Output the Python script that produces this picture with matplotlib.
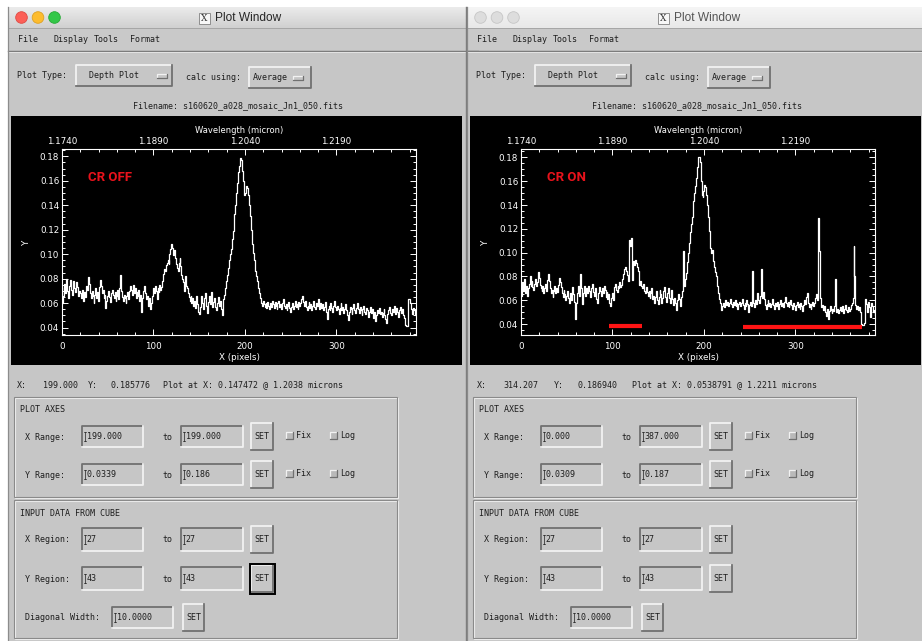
import numpy as np
import matplotlib
matplotlib.use("Agg")
import matplotlib.pyplot as plt
from matplotlib.patches import Rectangle, Circle
from matplotlib.colors import LinearSegmentedColormap
from matplotlib.ticker import MultipleLocator, FormatStrFormatter

W, H = 922, 641

# depth plot, averaged over the extraction box, one value per cube pixel
flux_cr_off = [
    0.072, 0.060, 0.066, 0.076, 0.068, 0.080, 0.070, 0.064, 0.074, 0.079,
    0.071, 0.067, 0.075, 0.078, 0.072, 0.069, 0.077, 0.073, 0.066, 0.070,
    0.068, 0.064, 0.071, 0.067, 0.062, 0.069, 0.065, 0.074, 0.071, 0.081,
    0.076, 0.068, 0.064, 0.070, 0.066, 0.060, 0.067, 0.072, 0.064, 0.069,
    0.062, 0.073, 0.079, 0.074, 0.068, 0.071, 0.064, 0.067, 0.056, 0.062,
    0.066, 0.070, 0.065, 0.061, 0.068, 0.071, 0.067, 0.064, 0.069, 0.062,
    0.066, 0.071, 0.063, 0.072, 0.083, 0.070, 0.065, 0.062, 0.067, 0.064,
    0.060, 0.066, 0.069, 0.063, 0.070, 0.074, 0.071, 0.067, 0.075, 0.068,
    0.072, 0.064, 0.069, 0.066, 0.071, 0.062, 0.067, 0.053, 0.064, 0.070,
    0.074, 0.068, 0.063, 0.066, 0.061, 0.058, 0.064, 0.055, 0.060, 0.066,
    0.072, 0.068, 0.074, 0.070, 0.063, 0.072, 0.069, 0.075, 0.071, 0.073,
    0.078, 0.084, 0.088, 0.086, 0.091, 0.093, 0.095, 0.092, 0.100, 0.104,
    0.108, 0.105, 0.099, 0.103, 0.097, 0.092, 0.089, 0.086, 0.093, 0.097,
    0.090, 0.083, 0.080, 0.077, 0.070, 0.082, 0.074, 0.072, 0.068, 0.065,
    0.062, 0.066, 0.060, 0.064, 0.058, 0.062, 0.056, 0.066, 0.059, 0.053,
    0.051, 0.057, 0.062, 0.066, 0.060, 0.055, 0.064, 0.068, 0.058, 0.052,
    0.061, 0.066, 0.059, 0.069, 0.063, 0.057, 0.061, 0.064, 0.057, 0.054,
    0.060, 0.065, 0.058, 0.062, 0.055, 0.050, 0.056, 0.063, 0.067, 0.072,
    0.078, 0.083, 0.089, 0.095, 0.100, 0.104, 0.112, 0.119, 0.126, 0.133,
    0.140, 0.150, 0.158, 0.167, 0.172, 0.179, 0.177, 0.168, 0.160, 0.152,
    0.148, 0.150, 0.156, 0.154, 0.148, 0.140, 0.131, 0.120, 0.108, 0.101,
    0.095, 0.092, 0.086, 0.082, 0.078, 0.072, 0.068, 0.064, 0.060, 0.058,
    0.062, 0.059, 0.057, 0.060, 0.056, 0.061, 0.058, 0.055, 0.060, 0.057,
    0.062, 0.059, 0.056, 0.061, 0.058, 0.055, 0.060, 0.062, 0.057, 0.059,
    0.055, 0.060, 0.063, 0.058, 0.056, 0.059, 0.054, 0.058, 0.061, 0.056,
    0.053, 0.057, 0.060, 0.055, 0.058, 0.062, 0.057, 0.059, 0.055, 0.061,
    0.058, 0.060, 0.063, 0.066, 0.061, 0.058, 0.062, 0.057, 0.054, 0.058,
    0.061, 0.056, 0.059, 0.054, 0.058, 0.062, 0.057, 0.055, 0.060, 0.058,
    0.063, 0.058, 0.055, 0.060, 0.056, 0.059, 0.054, 0.057, 0.061, 0.053,
    0.047, 0.055, 0.058, 0.054, 0.060, 0.056, 0.053, 0.058, 0.062, 0.057,
    0.054, 0.058, 0.055, 0.051, 0.056, 0.060, 0.054, 0.057, 0.052, 0.055,
    0.059, 0.054, 0.050, 0.046, 0.053, 0.057, 0.055, 0.051, 0.056, 0.059,
    0.054, 0.052, 0.056, 0.060, 0.055, 0.052, 0.057, 0.054, 0.050, 0.055,
    0.058, 0.053, 0.051, 0.056, 0.054, 0.049, 0.053, 0.057, 0.052, 0.055,
    0.051, 0.048, 0.053, 0.045, 0.050, 0.054, 0.052, 0.056, 0.051, 0.053,
    0.049, 0.052, 0.055, 0.050, 0.047, 0.044, 0.051, 0.054, 0.057, 0.052,
    0.050, 0.055, 0.053, 0.058, 0.054, 0.051, 0.056, 0.053, 0.049, 0.054,
    0.057, 0.052, 0.055, 0.050, 0.048, 0.043, 0.042, 0.041, 0.041, 0.063,
    0.063, 0.060, 0.055, 0.051, 0.056, 0.054, 0.050, 0.052,
]

flux_cr_on = [
    0.070, 0.064, 0.075, 0.068, 0.078, 0.066, 0.072, 0.064, 0.070, 0.074,
    0.080, 0.072, 0.076, 0.071, 0.069, 0.074, 0.078, 0.072, 0.075, 0.084,
    0.079, 0.073, 0.070, 0.068, 0.072, 0.066, 0.070, 0.074, 0.068, 0.077,
    0.082, 0.076, 0.070, 0.066, 0.069, 0.063, 0.068, 0.072, 0.066, 0.070,
    0.067, 0.073, 0.079, 0.075, 0.071, 0.066, 0.063, 0.069, 0.065, 0.060,
    0.064, 0.068, 0.062, 0.058, 0.066, 0.060, 0.071, 0.065, 0.059, 0.052,
    0.044, 0.058, 0.066, 0.072, 0.064, 0.082, 0.070, 0.057, 0.066, 0.072,
    0.069, 0.064, 0.070, 0.066, 0.072, 0.068, 0.063, 0.070, 0.074, 0.067,
    0.064, 0.070, 0.066, 0.061, 0.058, 0.066, 0.071, 0.068, 0.064, 0.070,
    0.066, 0.072, 0.069, 0.063, 0.067, 0.061, 0.065, 0.058, 0.055, 0.062,
    0.066, 0.060, 0.071, 0.074, 0.069, 0.067, 0.072, 0.070, 0.075, 0.071,
    0.073, 0.078, 0.082, 0.086, 0.088, 0.085, 0.081, 0.076, 0.076, 0.111,
    0.106, 0.112, 0.077, 0.093, 0.090, 0.094, 0.091, 0.088, 0.085, 0.080,
    0.073, 0.076, 0.072, 0.070, 0.074, 0.068, 0.066, 0.071, 0.067, 0.064,
    0.068, 0.062, 0.066, 0.070, 0.061, 0.064, 0.058, 0.063, 0.068, 0.060,
    0.057, 0.063, 0.069, 0.065, 0.058, 0.062, 0.068, 0.071, 0.063, 0.059,
    0.066, 0.070, 0.062, 0.058, 0.064, 0.069, 0.061, 0.056, 0.062, 0.058,
    0.052, 0.060, 0.065, 0.061, 0.055, 0.063, 0.066, 0.068, 0.101, 0.072,
    0.078, 0.083, 0.092, 0.100, 0.108, 0.117, 0.124, 0.130, 0.136, 0.143,
    0.150, 0.156, 0.163, 0.172, 0.180, 0.180, 0.176, 0.160, 0.148, 0.147,
    0.152, 0.157, 0.155, 0.148, 0.140, 0.130, 0.118, 0.104, 0.100, 0.102,
    0.093, 0.090, 0.088, 0.084, 0.080, 0.072, 0.066, 0.061, 0.058, 0.052,
    0.055, 0.058, 0.054, 0.057, 0.060, 0.056, 0.059, 0.055, 0.058, 0.061,
    0.057, 0.054, 0.059, 0.056, 0.060, 0.055, 0.058, 0.053, 0.057, 0.059,
    0.055, 0.058, 0.061, 0.056, 0.053, 0.058, 0.055, 0.060, 0.057, 0.050,
    0.056, 0.059, 0.055, 0.085, 0.058, 0.054, 0.060, 0.057, 0.062, 0.066,
    0.060, 0.058, 0.064, 0.086, 0.062, 0.067, 0.061, 0.056, 0.053, 0.057,
    0.060, 0.055, 0.058, 0.054, 0.057, 0.061, 0.056, 0.053, 0.058, 0.055,
    0.059, 0.056, 0.053, 0.057, 0.060, 0.055, 0.058, 0.054, 0.059, 0.063,
    0.058, 0.055, 0.059, 0.054, 0.057, 0.060, 0.056, 0.053, 0.058, 0.055,
    0.052, 0.056, 0.059, 0.054, 0.057, 0.053, 0.058, 0.055, 0.051, 0.056,
    0.060, 0.057, 0.063, 0.066, 0.058, 0.054, 0.057, 0.053, 0.056, 0.059,
    0.055, 0.058, 0.062, 0.065, 0.060, 0.129, 0.101, 0.062, 0.058, 0.054,
    0.056, 0.052, 0.055, 0.050, 0.047, 0.053, 0.044, 0.051, 0.055, 0.052,
    0.049, 0.053, 0.051, 0.055, 0.078, 0.050, 0.053, 0.049, 0.052, 0.054,
    0.051, 0.055, 0.052, 0.049, 0.053, 0.056, 0.052, 0.050, 0.054, 0.051,
    0.053, 0.056, 0.058, 0.062, 0.106, 0.080, 0.056, 0.053, 0.055, 0.052,
    0.054, 0.050, 0.040, 0.039, 0.039, 0.040, 0.041, 0.061, 0.057, 0.050,
    0.059, 0.054, 0.046, 0.058, 0.055, 0.050, 0.052, 0.048,
]

# wavelength solution for the top axis
wave0, dwave = 1.1740, 0.00015
wave_labels = ["1.1740", "1.1890", "1.2040", "1.2190"]

# pixel ranges flagged under the CR ON spectrum: (start, end, level)
flagged = [(96, 132, 0.0382), (243, 373, 0.0373)]

filename = "s160620_a028_mosaic_Jn1_050.fits"
status_off = ["199.000", "0.185776", "0.147472 @ 1.2038"]
status_on = ["314.207", "0.186940", "0.0538791 @ 1.2211"]
xrange_off = ["199.000", "199.000"]
yrange_off = ["0.0339", "0.186"]
xrange_on = ["0.000", "387.000"]
yrange_on = ["0.0309", "0.187"]
x_region = ["27", "27"]
y_region = ["43", "43"]
diag_width = "10.0000"

PANEL = "#c6c6c6"
LIGHT = "#f2f2f2"
SHADE = "#707070"
INK = "#1e1e1e"
GUI_FONT = dict(family="DejaVu Sans Mono", fontsize=6.0, color=INK)

fig = plt.figure(figsize=(W / 100, H / 100), dpi=100, facecolor="white")
bg = fig.add_axes([0, 0, 1, 1])
bg.axis("off")


def label(x, y, s, ha="left", **kw):
    opts = dict(GUI_FONT)
    opts.update(kw)
    bg.text(x, y, s, ha=ha, va="center", zorder=5, **opts)


def bevel(x0, y0, x1, y1, raised=True, fill=PANEL, lw=1.3):
    bg.add_patch(Rectangle((x0, y0), x1 - x0, y1 - y0, fc=fill, ec="none", zorder=3))
    hi, lo = (LIGHT, SHADE) if raised else (SHADE, LIGHT)
    bg.plot([x0, x0, x1], [y1, y0, y0], color=hi, lw=lw, zorder=4)
    bg.plot([x0, x1, x1], [y1, y1, y0], color=lo, lw=lw, zorder=4)


def field(x0, y0, x1, y1, s):
    bevel(x0, y0, x1, y1, raised=False)
    cx, ym = x0 + 3, (y0 + y1) / 2
    bg.plot([cx, cx], [ym - 4.5, ym + 4.5], color=INK, lw=0.5, zorder=5)
    bg.plot([cx - 1.2, cx + 1.2], [ym - 4.5, ym - 4.5], color=INK, lw=0.5, zorder=5)
    bg.plot([cx - 1.2, cx + 1.2], [ym + 4.5, ym + 4.5], color=INK, lw=0.5, zorder=5)
    label(x0 + 4.5, ym, s)


def set_button(x0, y0, x1, y1, focused=False):
    bevel(x0, y0, x1, y1)
    if focused:
        bg.add_patch(Rectangle((x0 - 1.5, y0 - 1.5), x1 - x0 + 3, y1 - y0 + 3,
                               fill=False, ec="black", lw=1.4, zorder=5))
    label((x0 + x1) / 2, (y0 + y1) / 2, "SET", ha="center")


def toggle(x, y, s):
    bevel(x, y, x + 7, y + 7, fill="#b9b9b9", lw=0.9)
    label(x + 10.5, y + 3, s)


def group(x0, y0, x1, y1):
    bg.add_patch(Rectangle((x0, y0), x1 - x0, y1 - y0, fill=False, ec="#8a8a8a", lw=0.8, zorder=3))
    bg.add_patch(Rectangle((x0 + 1, y0 + 1), x1 - x0, y1 - y0, fill=False, ec="#efefef", lw=0.8, zorder=2.9))


def draw_window(ox, active, status, status_x, xr, yr, focused):
    left = ox + 8
    bg.add_patch(Rectangle((left, 7), 470, H, fc=PANEL, ec="none", zorder=1))
    bg.plot([left, left], [7, H], color="#8c8c8c", lw=0.9, zorder=6)

    # title bar
    top, bottom = ("#ebebeb", "#d0d0d0") if active else ("#f5f5f5", "#e8e8e8")
    cmap = LinearSegmentedColormap.from_list("bar", [top, bottom])
    bg.imshow(np.linspace(0, 1, 32)[:, None], cmap=cmap, extent=(left, left + 470, 28, 7),
              aspect="auto", zorder=1.5, interpolation="bilinear")
    if active:
        lights = [("#fc5f57", "#de4a43"), ("#fdbc2e", "#dea123"), ("#33c748", "#27aa35")]
    else:
        lights = [("#dddddd", "#c6c6c6")] * 3
    for i, (fc, ec) in enumerate(lights):
        bg.add_patch(Circle((ox + 21.5 + 16.5 * i, 17.5), 5.8, fc=fc, ec=ec, lw=0.6, zorder=2))
    bg.add_patch(Rectangle((ox + 199, 12.5), 11, 11, fc="#f7f7f7", ec="#808080", lw=0.6, zorder=2))
    bg.text(ox + 204.5, 18.3, "X", ha="center", va="center", family="DejaVu Serif",
            fontsize=6.5, color="#333333", zorder=3)
    bg.text(ox + 215, 18, "Plot Window", ha="left", va="center", family="Liberation Sans",
            fontsize=8.6, color="#262626" if active else "#555555", zorder=3)

    # menu bar
    bg.add_patch(Rectangle((left, 28), 470, 22, fc="#c9c9c9", ec="none", zorder=1.6))
    bg.plot([left, left + 470], [28.3, 28.3], color="#a5a5a5", lw=0.7, zorder=2)
    bg.plot([left, left + 470], [50.5, 50.5], color="#7c7c7c", lw=1.0, zorder=2)
    bg.plot([left, left + 470], [52, 52], color="#e4e4e4", lw=0.7, zorder=2)
    for x, s in zip([18, 53, 94, 130], ["File", "Display", "Tools", "Format"]):
        label(ox + x, 40, s)

    # plot type and calc row
    label(ox + 17, 75.5, "Plot Type:")
    bevel(ox + 76, 65, ox + 172, 86)
    label(ox + 89, 75.5, "Depth Plot")
    bevel(ox + 157, 73.5, ox + 167, 77.5, lw=0.9)
    label(ox + 186, 77.5, "calc using:")
    bevel(ox + 249, 67, ox + 311, 88)
    label(ox + 253, 77.5, "Average")
    bevel(ox + 293, 75.5, ox + 303, 79.5, lw=0.9)
    label(ox + 238, 106, "Filename: " + filename, ha="center")

    # plot canvas
    bg.add_patch(Rectangle((ox + 11, 116), 451, 249, fc="black", ec="none", zorder=2))

    # cursor readout
    xs = [ox + v for v in status_x]
    label(xs[0], 385, "X:")
    label(xs[1], 385, status[0])
    label(xs[2], 385, "Y:")
    label(xs[3], 385, status[1])
    label(xs[4], 385, "Plot at X: " + status[2] + " microns")

    # plot axes group
    group(ox + 14, 397, ox + 397, 497)
    label(ox + 20, 409, "PLOT AXES")
    for y, name, vals in [(437, "X Range:", xr), (475, "Y Range:", yr)]:
        label(ox + 25, y, name)
        field(ox + 82, y - 11, ox + 143, y + 10, vals[0])
        label(ox + 162, y, "to")
        field(ox + 181, y - 11, ox + 243, y + 10, vals[1])
        set_button(ox + 251, y - 14, ox + 273, y + 13)
        toggle(ox + 285.5, y - 5, "Fix")
        toggle(ox + 329.5, y - 5, "Log")

    # input data group
    group(ox + 14, 500, ox + 397, 638)
    label(ox + 20, 513, "INPUT DATA FROM CUBE")
    for y, name, vals, foc in [(540, "X Region:", x_region, False),
                               (579, "Y Region:", y_region, focused)]:
        label(ox + 25, y, name)
        field(ox + 82, y - 12, ox + 143, y + 11, vals[0])
        label(ox + 162, y, "to")
        field(ox + 181, y - 12, ox + 243, y + 11, vals[1])
        set_button(ox + 251, y - 14, ox + 273, y + 13, focused=foc)
    label(ox + 25, 618, "Diagonal Width:")
    field(ox + 112, 607, ox + 173, 628, diag_width)
    set_button(ox + 183, 604, ox + 204, 631)


def plot_panel(ox, flux, yr, tag, marks):
    x0, y0, x1, y1 = 62 + ox, 149, 416 + ox, 335
    ax = fig.add_axes([x0 / W, 1 - y1 / H, (x1 - x0) / W, (y1 - y0) / H])
    ax.set_facecolor("black")
    pix = np.arange(len(flux))
    ax.plot(pix, flux, drawstyle="steps-mid", color="white", lw=0.9)
    for a, b, lev in marks:
        ax.plot([a, b], [lev, lev], color="#ff1414", lw=3.0, solid_capstyle="butt")
    ax.set_xlim(0, len(flux) - 1)
    ax.set_ylim(float(yr[0]), float(yr[1]))

    for sp in ax.spines.values():
        sp.set_color("white")
        sp.set_linewidth(0.8)
    ax.xaxis.set_major_locator(MultipleLocator(100))
    ax.xaxis.set_minor_locator(MultipleLocator(20))
    ax.yaxis.set_major_locator(MultipleLocator(0.02))
    ax.yaxis.set_minor_locator(MultipleLocator(0.005))
    ax.yaxis.set_major_formatter(FormatStrFormatter("%.2f"))
    ax.tick_params(which="both", direction="in", colors="white", labelsize=6.3,
                   top=False, right=True, width=0.7)
    ax.tick_params(which="major", length=4)
    ax.tick_params(which="minor", length=2)
    ax.tick_params(axis="x", pad=5)
    ax.tick_params(axis="y", pad=2)
    ax.set_xlabel("X (pixels)", color="white", fontsize=6.3)
    ax.xaxis.set_label_coords(0.5, -0.097)
    ax.set_ylabel("Y", color="white", fontsize=6.3)
    ax.yaxis.set_label_coords(-0.088, 0.5)

    top = ax.twiny()
    top.set_xlim(ax.get_xlim())
    top.set_xticks([(float(w) - wave0) / dwave for w in wave_labels])
    top.set_xticklabels(wave_labels)
    top.xaxis.set_minor_locator(MultipleLocator(0.003 / dwave))
    top.tick_params(which="both", direction="in", colors="white", labelsize=6.3, width=0.7, pad=2)
    top.tick_params(which="major", length=4)
    top.tick_params(which="minor", length=2)
    for sp in top.spines.values():
        sp.set_visible(False)
    top.set_xlabel("Wavelength (micron)", color="white", fontsize=6.0)
    top.xaxis.set_label_coords(0.5, 1.088)

    ax.text(0.073, 0.848, tag, transform=ax.transAxes, va="center", ha="left",
            color="#e8121b", fontsize=9.5, fontweight="bold", family="Roboto")
    return ax


draw_window(0, True, status_off, [17, 43, 88, 110, 163], xrange_off, yrange_off, True)
draw_window(459, False, status_on, [18, 44, 95, 118, 173], xrange_on, yrange_on, False)
bg.plot([466, 466], [7, H], color="#7d7d7d", lw=1.0, zorder=7)
bg.set_xlim(0, W)
bg.set_ylim(H, 0)

plot_panel(0, flux_cr_off, yrange_off, "CR OFF", [])
plot_panel(459, flux_cr_on, yrange_on, "CR ON", flagged)

fig.savefig("out.png", dpi=100, facecolor="white")
